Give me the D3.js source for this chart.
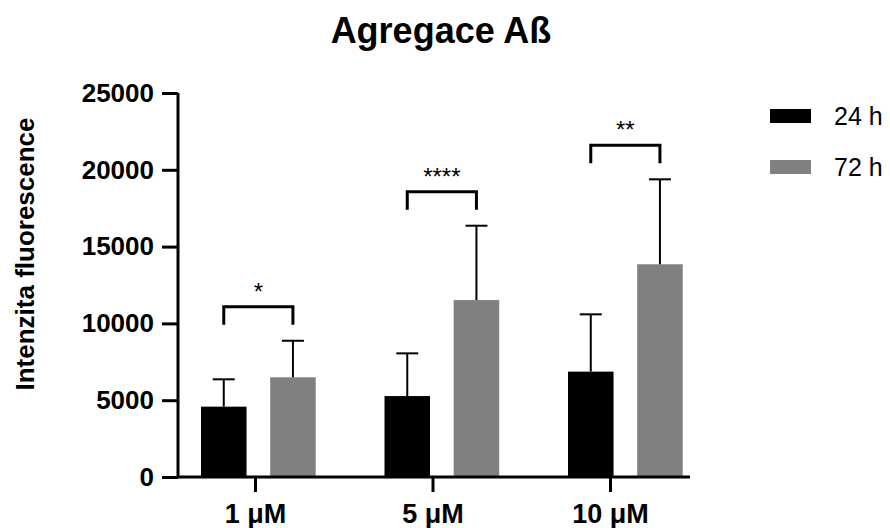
<!DOCTYPE html>
<html>
<head>
<meta charset="utf-8">
<script src="https://cdn.jsdelivr.net/npm/d3@7"></script>
<style>
  body { margin: 0; background: #fff; }
  text { font-family: "Liberation Sans", Arial, sans-serif; }
</style>
</head>
<body>
<div id="chart"></div>
<script>
////////////////////////////////////////////////////////
//////////////////// Data //////////////////////////////
////////////////////////////////////////////////////////

let groups = ["1 μM", "5 μM", "10 μM"];
let keys = ["24 h", "72 h"];

let mean24 = [4580, 5270, 6860];
let sd24 = [1780, 2780, 3730];
let mean72 = [6490, 11520, 13850];
let sd72 = [2380, 4840, 5530];

let stars = ["*", "****", "**"];

let yTicks = [0, 5000, 10000, 15000, 20000, 25000];

////////////////////////////////////////////////////////
//////////////////// Setup /////////////////////////////
////////////////////////////////////////////////////////

let width = 890;
let height = 528;
let palette = ["#000000", "#808080"];

let rows = groups.map((g, i) => ({
  group: g,
  values: [
    { key: keys[0], mean: mean24[i], sd: sd24[i] },
    { key: keys[1], mean: mean72[i], sd: sd72[i] }
  ],
  star: stars[i]
}));

let y = d3.scaleLinear()
  .domain([0, 25000])
  .range([477, 93]);

let x0 = d3.scaleBand()
  .domain(groups)
  .range([201, 682.7])
  .paddingInner(0.375)
  .paddingOuter(0);

let x1 = d3.scaleBand()
  .domain(keys)
  .range([0, x0.bandwidth()])
  .paddingInner(0.342);

// the original's category ticks sit slightly left of the bar pairs
let xTick = d3.scalePoint()
  .domain(groups)
  .range([255, 610]);

let color = d3.scaleOrdinal().domain(keys).range(palette);

/////////////////////////////////////////////////////////
//////////////////// Creating the figure ////////////////
/////////////////////////////////////////////////////////

const svg = d3.select("#chart").append("svg")
  .attr("width", width)
  .attr("height", height)
  .attr("viewBox", [0, 0, width, height]);

// title
svg.append("text")
  .attr("x", 441)
  .attr("y", 43)
  .attr("text-anchor", "middle")
  .attr("font-size", 36)
  .attr("font-weight", "bold")
  .text("Agregace Aß");

// y axis title
svg.append("text")
  .attr("transform", "translate(34,254) rotate(-90)")
  .attr("text-anchor", "middle")
  .attr("font-size", 26)
  .attr("font-weight", "bold")
  .text("Intenzita fluorescence");

// bars
const group = svg.append("g")
  .selectAll("g")
  .data(rows)
  .join("g")
  .attr("transform", d => `translate(${x0(d.group)},0)`);

group.selectAll("rect")
  .data(d => d.values)
  .join("rect")
  .attr("x", d => x1(d.key))
  .attr("y", d => y(d.mean))
  .attr("width", x1.bandwidth())
  .attr("height", d => y(0) - y(d.mean))
  .attr("fill", d => color(d.key));

// error bars (upper only)
const err = group.selectAll("g.err")
  .data(d => d.values)
  .join("g")
  .attr("class", "err")
  .attr("stroke", "#000")
  .attr("stroke-width", 2);

err.append("line")
  .attr("x1", d => x1(d.key) + x1.bandwidth() / 2)
  .attr("x2", d => x1(d.key) + x1.bandwidth() / 2)
  .attr("y1", d => y(d.mean))
  .attr("y2", d => y(d.mean + d.sd));

err.append("line")
  .attr("x1", d => x1(d.key) + x1.bandwidth() / 2 - 11)
  .attr("x2", d => x1(d.key) + x1.bandwidth() / 2 + 11)
  .attr("y1", d => y(d.mean + d.sd))
  .attr("y2", d => y(d.mean + d.sd));

// significance brackets
let bracketTop = d => y(d3.max(d.values, v => v.mean + v.sd)) - 34;

group.append("path")
  .attr("fill", "none")
  .attr("stroke", "#000")
  .attr("stroke-width", 3)
  .attr("d", d => {
    const a = x1(keys[0]) + x1.bandwidth() / 2;
    const b = x1(keys[1]) + x1.bandwidth() / 2;
    const t = bracketTop(d);
    return `M${a},${t + 18}V${t}H${b}V${t + 18}`;
  });

group.append("text")
  .attr("x", x0.bandwidth() / 2)
  .attr("y", d => bracketTop(d) - 7)
  .attr("text-anchor", "middle")
  .attr("font-size", 24)
  .text(d => d.star);

// y axis
const yAxis = svg.append("g")
  .attr("transform", "translate(178,0)")
  .call(d3.axisLeft(y).tickValues(yTicks).tickFormat(d3.format("d")).tickSize(16).tickPadding(8));

yAxis.select(".domain")
  .attr("d", `M0,${y(25000)}V${y(0)}`)
  .attr("stroke-width", 3);
yAxis.selectAll(".tick line").attr("stroke-width", 3);
yAxis.selectAll(".tick text")
  .attr("font-size", 26)
  .attr("font-weight", "bold")
  .attr("font-family", "Liberation Sans, Arial, sans-serif")
  .attr("fill", "#000");

// x axis
const xAxis = svg.append("g")
  .attr("transform", `translate(0,${y(0)})`)
  .call(d3.axisBottom(xTick).tickSize(15).tickPadding(10));

xAxis.select(".domain")
  .attr("d", "M178,0H690")
  .attr("stroke-width", 3);
xAxis.selectAll(".tick line").attr("stroke-width", 3);
xAxis.selectAll(".tick text")
  .attr("font-size", 27)
  .attr("font-weight", "bold")
  .attr("font-family", "Liberation Sans, Arial, sans-serif")
  .attr("fill", "#000")
  .attr("dy", "0.71em")
  .attr("y", 27);

// legend
const legend = svg.append("g")
  .selectAll("g")
  .data(keys)
  .join("g")
  .attr("transform", (d, i) => `translate(770,${109 + i * 51})`);

legend.append("rect")
  .attr("width", 41)
  .attr("height", 14)
  .attr("fill", d => color(d));

legend.append("text")
  .attr("x", 64)
  .attr("y", 16)
  .attr("font-size", 25)
  .text(d => d);
</script>
</body>
</html>
